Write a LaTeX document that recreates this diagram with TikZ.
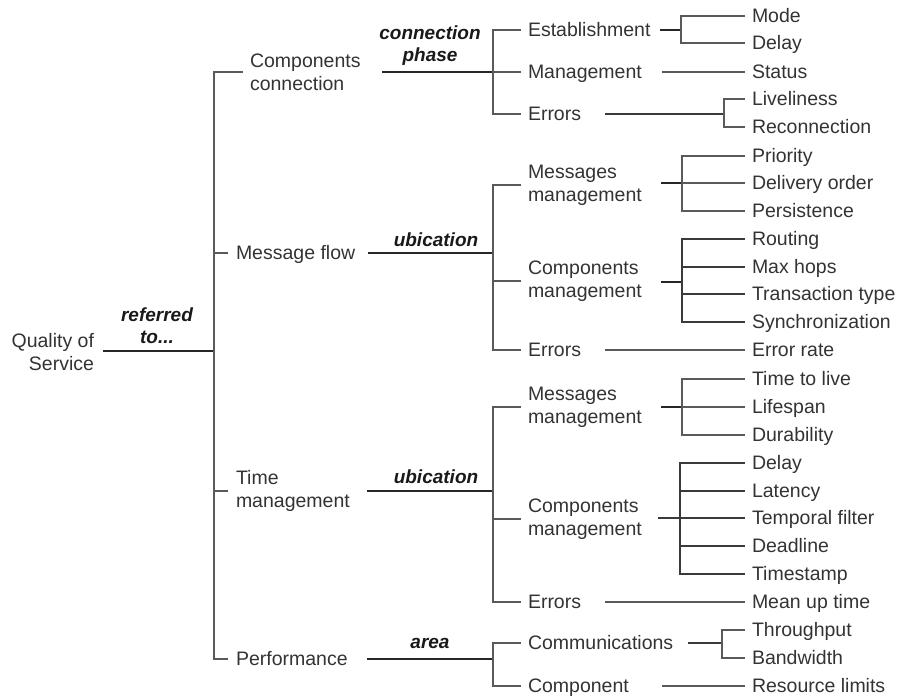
\documentclass[tikz,border=0pt]{standalone}
\usepackage{fontspec}
\setmainfont{Liberation Sans}
\definecolor{txt}{HTML}{333333}
\definecolor{ln}{HTML}{3A3A3A}
\definecolor{stubc}{HTML}{5A5A5A}
\begin{document}
\begin{tikzpicture}[x=1pt,y=-1pt,
  every node/.style={inner sep=0pt, outer sep=0pt, text=txt, font=\fontsize{19.5}{23}\selectfont},
  item/.style={anchor=west, text height=17pt, text depth=4pt},
  item2/.style={anchor=west, align=left},
  lab/.style={font=\fontsize{19}{22}\selectfont\bfseries\itshape, text=black!90, align=center},
  conn/.style={draw=ln, line width=1.3pt},
  thk/.style={draw=black!85, line width=2.6pt},
  stub/.style={draw=stubc, line width=1.6pt}]
\useasboundingbox (0,0) rectangle (898,697);

% root and level 1
\node[anchor=east, align=right] (root) at (94,352) {Quality of\\Service};
\node[item2] (cc) at (250,72) {Components\\connection};
\node[item] (mf) at (236,253) {Message flow};
\node[item2] (tm) at (236,491) {Time\\management};
\node[item] (pf) at (236,659) {Performance};

% labels
\node[lab] (l0) at (157,326) {referred\\to...};
\node[lab] (l1) at (430,46) {connection\\phase};
\node[lab] (l2) at (436,240) {ubication};
\node[lab] (l3) at (436,477) {ubication};
\node[lab] (l4) at (430,643) {area};

% level 2
\node[item] (est) at (528,30) {Establishment};
\node[item] (mgt) at (528,72) {Management};
\node[item] (er1) at (528,114) {Errors};
\node[item2] (mm1) at (528,185) {Messages\\management};
\node[item2] (cm1) at (528,281) {Components\\management};
\node[item] (er2) at (528,350) {Errors};
\node[item2] (mm2) at (528,407) {Messages\\management};
\node[item2] (cm2) at (528,519) {Components\\management};
\node[item] (er3) at (528,602) {Errors};
\node[item] (com) at (528,643) {Communications};
\node[item] (cpt) at (528,686) {Component};

% level 3
\node[item] (mode) at (752,16) {Mode};
\node[item] (dly1) at (752,43) {Delay};
\node[item] (stat) at (752,72) {Status};
\node[item] (live) at (752,99) {Liveliness};
\node[item] (reco) at (752,127) {Reconnection};
\node[item] (prio) at (752,156) {Priority};
\node[item] (deli) at (752,183) {Delivery order};
\node[item] (pers) at (752,211) {Persistence};
\node[item] (rout) at (752,239) {Routing};
\node[item] (hops) at (752,267) {Max hops};
\node[item] (tran) at (752,294) {Transaction type};
\node[item] (sync) at (752,322) {Synchronization};
\node[item] (erra) at (752,350) {Error rate};
\node[item] (ttl) at (752,379) {Time to live};
\node[item] (life) at (752,407) {Lifespan};
\node[item] (dura) at (752,435) {Durability};
\node[item] (dly2) at (752,463) {Delay};
\node[item] (late) at (752,491) {Latency};
\node[item] (temp) at (752,518) {Temporal filter};
\node[item] (dead) at (752,546) {Deadline};
\node[item] (tsta) at (752,574) {Timestamp};
\node[item] (mut) at (752,602) {Mean up time};
\node[item] (thr) at (752,630) {Throughput};
\node[item] (band) at (752,658) {Bandwidth};
\node[item] (res) at (752,686) {Resource limits};

% junction coordinates
\coordinate (rs) at (103,351);
\coordinate (tj) at (214,351);
\coordinate (ccs) at (382,72);  \coordinate (ccj) at (493,72);
\coordinate (mfs) at (368,253); \coordinate (mfj) at (493,253);
\coordinate (tms) at (367,491); \coordinate (tmj) at (493,491);
\coordinate (pfs) at (367,659); \coordinate (pfj) at (493,659);
\coordinate (ests) at (660,30); \coordinate (estj) at (681,30);
\coordinate (mgts) at (662,72);
\coordinate (er1s) at (605,114); \coordinate (er1j) at (724,114);
\coordinate (mm1s) at (661,183); \coordinate (mm1j) at (682,183);
\coordinate (cm1s) at (661,282); \coordinate (cm1j) at (682,282);
\coordinate (er2s) at (605,350);
\coordinate (mm2s) at (661,407); \coordinate (mm2j) at (682,407);
\coordinate (cm2s) at (658,518); \coordinate (cm2j) at (680,518);
\coordinate (er3s) at (605,602);
\coordinate (coms) at (688,643); \coordinate (comj) at (722,643);
\coordinate (cpts) at (662,686);

% root to trunk
\draw[thk] (rs) -- (tj);
\draw[stub] ([xshift=-7pt]cc.west) -| (tj);
\draw[stub] ([xshift=-8pt]mf.west) -| (tj);
\draw[stub] ([xshift=-8pt]tm.west) -| (tj);
\draw[stub] ([xshift=-8pt]pf.west) -| (tj);

% level 1 to level 2
\draw[thk] (ccs) -- (ccj);
\draw[thk] (mfs) -- (mfj);
\draw[thk, line width=2pt] (tms) -- (tmj);
\draw[thk] (pfs) -- (pfj);
\foreach \c in {est,mgt,er1} \draw[stub] ([xshift=-7pt]\c.west) -| (ccj);
\foreach \c in {mm1,cm1,er2} \draw[stub] ([xshift=-7pt]\c.west) -| (mfj);
\foreach \c in {mm2,cm2,er3} \draw[stub] ([xshift=-7pt]\c.west) -| (tmj);
\foreach \c in {com,cpt} \draw[stub] ([xshift=-7pt]\c.west) -| (pfj);

% level 2 to level 3
\draw[thk, line width=2.2pt] (ests) -- (estj);
\foreach \c in {mode,dly1} \draw[stub] ([xshift=-7pt]\c.west) -| (estj);
\draw[stub] (mgts) -- ([xshift=-7pt]stat.west);
\draw[conn] (er1s) -- (er1j);
\foreach \c in {live,reco} \draw[stub] ([xshift=-7pt]\c.west) -| (er1j);
\draw[thk, line width=2.2pt] (mm1s) -- (mm1j);
\foreach \c in {prio,deli,pers} \draw[stub] ([xshift=-7pt]\c.west) -| (mm1j);
\draw[thk, line width=2.2pt] (cm1s) -- (cm1j);
\foreach \c in {rout,hops,tran,sync} \draw[conn] ([xshift=-7pt]\c.west) -| (cm1j);
\draw[stub] (er2s) -- ([xshift=-7pt]erra.west);
\draw[thk, line width=2.2pt] (mm2s) -- (mm2j);
\foreach \c in {ttl,life,dura} \draw[stub] ([xshift=-7pt]\c.west) -| (mm2j);
\draw[conn] (cm2s) -- (cm2j);
\foreach \c in {dly2,late,temp,dead,tsta} \draw[conn] ([xshift=-7pt]\c.west) -| (cm2j);
\draw[stub] (er3s) -- ([xshift=-7pt]mut.west);
\draw[conn] (coms) -- (comj);
\foreach \c in {thr,band} \draw[stub] ([xshift=-7pt]\c.west) -| (comj);
\draw[stub] (cpts) -- ([xshift=-7pt]res.west);
\end{tikzpicture}
\end{document}
